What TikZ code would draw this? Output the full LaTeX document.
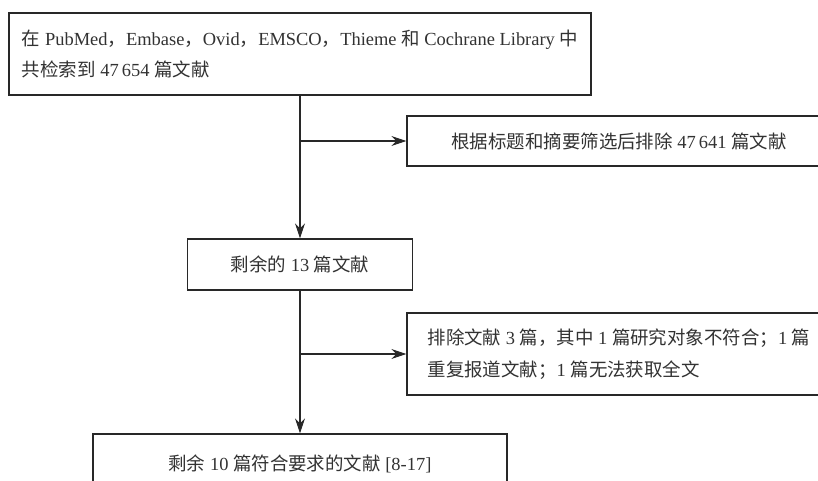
\documentclass[tikz,border=0pt]{standalone}
\usepackage{fontspec}
\setmainfont{Liberation Serif}
\newfontfamily\cjk{Noto Sans CJK SC}
\usepackage{tikz}
\usetikzlibrary{arrows.meta, positioning}
\definecolor{lineGray}{RGB}{40, 40, 40}
\definecolor{textGray}{RGB}{50, 50, 50}
\newcommand{\zh}[1]{{\cjk #1}}
\tikzset{every node/.style={font=\fontsize{10.5pt}{18pt}\selectfont}, >={Stealth[length=3mm, width=2mm]}}

\begin{document}
\begin{tikzpicture}[
    box/.style={
        draw=lineGray,
        line width=0.7pt,
        text=textGray,
        inner sep=0pt,
        align=center
    },
    note/.style={
        box,
        align=left
    },
    arrow/.style={
        ->,
        draw=lineGray,
        line width=0.6pt,
        line cap=round
    }
]

\useasboundingbox (0,0) rectangle (16.36,-9.6);
\clip (0,0) rectangle (16.36,-9.6);

\node[note, minimum width=11.64cm, minimum height=1.64cm] (search) at (6.0,-1.08)
{\zh{在} PubMed\zh{，}Embase\zh{，}Ovid\zh{，}EMSCO\zh{，}Thieme \zh{和} Cochrane Library \zh{中}\\\zh{共检索到} 47\,654 \zh{篇文献}};

\node[box, minimum width=8.48cm, minimum height=1.0cm] (excl1) at (12.38,-2.82)
{\zh{根据标题和摘要筛选后排除} 47\,641 \zh{篇文献}};

\node[box, minimum width=4.5cm, minimum height=1.02cm] (remain) at (6.0,-5.29)
{\zh{剩余的} 13 \zh{篇文献}};

\node[note, minimum width=8.48cm, minimum height=1.64cm] (excl2) at (12.38,-7.08)
{\zh{排除文献} 3 \zh{篇，其中} 1 \zh{篇研究对象不符合；}1 \zh{篇}\\\zh{重复报道文献；}1 \zh{篇无法获取全文}};

\node[box, minimum width=8.28cm, minimum height=1.2cm] (final) at (6.0,-9.28)
{\zh{剩余} 10 \zh{篇符合要求的文献} [8-17]};

\coordinate (b1) at (search.south |- excl1.west);
\coordinate (b2) at (remain.south |- excl2.west);

\draw[arrow] (search.south) -- (remain.north);
\draw[arrow] (b1) -- (excl1.west);
\draw[arrow] (remain.south) -- (final.north);
\draw[arrow] (b2) -- (excl2.west);

\end{tikzpicture}
\end{document}
